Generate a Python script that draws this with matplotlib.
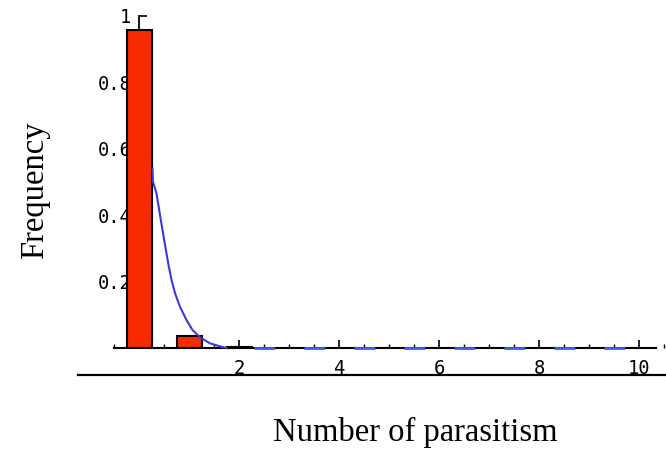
import matplotlib
matplotlib.use("Agg")
import matplotlib.pyplot as plt
from matplotlib.lines import Line2D
from matplotlib.ticker import MultipleLocator

# Frequency histogram of the number of parasitism events
counts = [0, 1, 2]
freq = [0.957, 0.036, 0.004]

# fitted curve
curve_x = [0.27, 0.28, 0.35, 0.42, 0.52, 0.59, 0.65, 0.72, 0.82, 0.95,
           1.07, 1.22, 1.42, 1.62, 1.75]
curve_y = [0.54, 0.50, 0.465, 0.40, 0.31, 0.25, 0.205, 0.165, 0.124, 0.084,
           0.054, 0.032, 0.014, 0.005, 0.0]
tail_x = [2.3, 10.0]
tail_y = [0.0, 0.0]

xticks = [2, 4, 6, 8, 10]
yticks = [0.2, 0.4, 0.6, 0.8, 1.0]
ytick_labels = ["0.2", "0.4", "0.6", "0.8", "1"]

plt.rcParams['lines.scale_dashes'] = False

fig = plt.figure(figsize=(6.66, 4.49), dpi=100)
ax = fig.add_axes([114 / 666, 101 / 449, 550 / 666, 335.8 / 449])
ax.set_xlim(-0.5, 10.5)
ax.set_ylim(0, 1.01)

ax.bar(counts, freq, width=0.5, color="#f72a00", edgecolor="black",
       linewidth=1.5, zorder=2)
ax.plot(curve_x, curve_y, color="#3a3ad8", lw=1.5, zorder=3, clip_on=False)
ax.plot(tail_x, tail_y, color="#3b5bff", lw=2.0, zorder=3, dashes=(15, 21),
        clip_on=False)

# Mathematica-like axes crossing at the origin
for s in ["top", "right"]:
    ax.spines[s].set_visible(False)
ax.spines["left"].set_position(("data", 0))
ax.spines["left"].set_bounds(0, 1)
ax.spines["left"].set_zorder(0.5)
ax.spines["bottom"].set_bounds(-0.5, 10.33)
ax.spines["bottom"].set_linewidth(1.5)
ax.spines["left"].set_linewidth(1.3)
ax.set_axisbelow(True)

ax.set_xticks(xticks)
ax.xaxis.set_minor_locator(MultipleLocator(0.5))
ax.set_yticks(yticks)
ax.set_yticklabels(ytick_labels)
ax.tick_params(axis="both", which="major", direction="in", length=6,
               width=1.2, labelsize=13.5)
ax.tick_params(axis="both", which="minor", direction="in", length=3, width=1.0)
ax.tick_params(axis="x", which="major", pad=8)
ax.tick_params(axis="y", which="major", pad=5.4)
for lab in ax.get_xticklabels() + ax.get_yticklabels():
    lab.set_family("DejaVu Sans Mono")

# extra rule under the tick labels
fig.add_artist(Line2D([78 / 666, 665 / 666], [1 - 375 / 449, 1 - 375 / 449],
                      color="black", lw=1.6))

fig.text(35 / 666, 1 - 190 / 449, "Frequency", rotation=90, ha="center",
         va="center", fontsize=23.5, family="Liberation Serif")
fig.text(415 / 666, 1 - 432 / 449, "Number of parasitism", ha="center",
         va="center", fontsize=23.5, family="Liberation Serif")

fig.savefig("out.png", dpi=100)
